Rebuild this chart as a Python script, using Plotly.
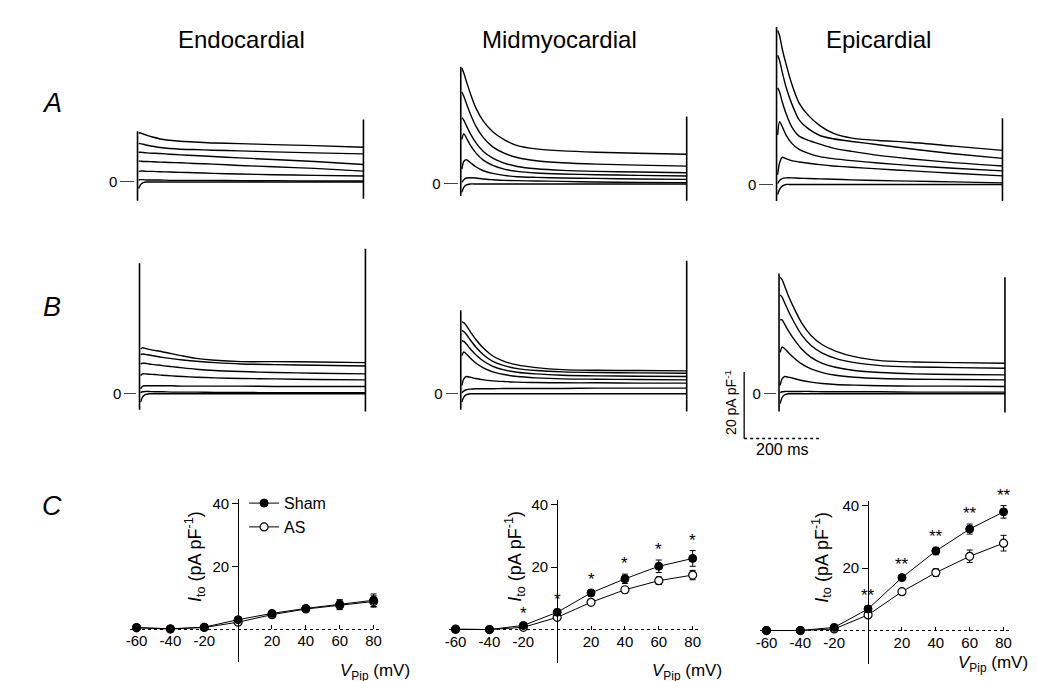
import plotly.graph_objects as go

W, H = 1037, 681
FONT = "Liberation Sans, Arial, sans-serif"

# ---------------- data: current traces (pA/pF) sampled at TIME_MS ----------------
TIME_MS = [3, 8, 15, 25, 40, 60, 85, 115, 150, 200, 270, 360, 470, 600]

ENDO_A = [
    [14.8, 14.8, 14.5, 14.1, 13.6, 13.0, 12.6, 12.3, 12.1, 11.8, 11.6, 11.3, 11.0, 10.5],
    [11.6, 11.6, 11.4, 11.1, 10.8, 10.4, 10.1, 9.9, 9.8, 9.6, 9.4, 9.1, 8.8, 8.5],
    [9.0, 9.0, 8.9, 8.8, 8.7, 8.6, 8.4, 8.2, 8.0, 7.7, 7.3, 6.8, 6.2, 5.3],
    [6.3, 6.3, 6.2, 6.2, 6.1, 6.0, 5.9, 5.8, 5.6, 5.4, 5.0, 4.6, 4.1, 3.3],
    [3.2, 3.3, 3.3, 3.2, 3.2, 3.1, 3.0, 2.9, 2.8, 2.6, 2.4, 2.2, 2.0, 1.8],
    [0.6, 0.7, 0.7, 0.6, 0.6, 0.6, 0.5, 0.5, 0.5, 0.5, 0.4, 0.4, 0.3, 0.3],
    [-2.0, -0.8, -0.2, 0.0, 0.0, 0.0, 0.0, 0.0, 0.0, 0.0, 0.0, 0.0, 0.0, 0.0],
]
MID_A = [
    [35.0, 33.5, 31.0, 27.5, 23.0, 19.0, 15.8, 13.4, 11.6, 10.6, 10.0, 9.6, 9.3, 9.0],
    [27.8, 26.5, 24.3, 21.3, 17.5, 14.0, 11.2, 9.3, 8.0, 7.0, 6.4, 6.0, 5.7, 5.4],
    [20.0, 19.3, 17.6, 15.3, 12.5, 9.8, 7.8, 6.3, 5.3, 4.6, 4.1, 3.8, 3.6, 3.4],
    [13.5, 15.2, 13.9, 11.8, 9.4, 7.2, 5.6, 4.5, 3.8, 3.3, 3.0, 2.8, 2.6, 2.4],
    [4.5, 6.8, 7.3, 6.5, 5.2, 4.0, 3.2, 2.6, 2.2, 2.0, 1.8, 1.7, 1.5, 1.4],
    [0.5, 1.3, 1.8, 1.9, 1.8, 1.5, 1.3, 1.1, 1.0, 0.9, 0.8, 0.6, 0.5, 0.4],
    [-2.5, -1.0, -0.3, 0.0, 0.0, 0.0, 0.0, 0.0, 0.0, 0.0, 0.0, 0.0, 0.0, 0.0],
]
EPI_A = [
    [46.5, 45.0, 41.0, 36.5, 30.5, 24.6, 20.8, 17.8, 15.5, 14.0, 13.3, 12.7, 11.6, 10.3],
    [39.0, 37.5, 34.0, 29.5, 24.5, 19.5, 16.8, 14.8, 13.8, 13.0, 12.0, 10.7, 9.3, 7.9],
    [29.2, 28.0, 25.0, 21.5, 17.5, 14.6, 13.3, 12.2, 11.0, 10.0, 8.8, 7.7, 6.6, 5.6],
    [15.0, 19.0, 17.5, 15.0, 12.5, 10.6, 9.4, 8.4, 7.8, 7.2, 6.5, 5.7, 4.9, 4.1],
    [3.0, 6.5, 8.2, 7.8, 7.2, 6.8, 6.4, 6.0, 5.6, 5.2, 4.7, 4.1, 3.4, 2.6],
    [0.3, 1.2, 1.8, 2.0, 2.0, 1.9, 1.8, 1.7, 1.6, 1.4, 1.2, 1.0, 0.8, 0.5],
    [-3.0, -1.5, -0.5, 0.0, 0.0, 0.0, 0.0, 0.0, 0.0, 0.0, 0.0, 0.0, 0.0, 0.0],
]
ENDO_B = [
    [13.5, 13.9, 13.7, 13.4, 13.1, 12.7, 12.1, 11.4, 10.7, 10.1, 9.7, 9.7, 9.6, 9.4],
    [11.8, 12.0, 11.9, 11.7, 11.4, 11.0, 10.6, 10.2, 9.8, 9.4, 9.0, 8.8, 8.6, 8.4],
    [9.0, 9.2, 9.2, 9.0, 8.8, 8.5, 8.2, 7.8, 7.4, 7.0, 6.7, 6.4, 6.2, 6.0],
    [5.5, 6.0, 6.0, 5.9, 5.8, 5.6, 5.4, 5.2, 5.0, 4.8, 4.6, 4.5, 4.3, 4.2],
    [1.5, 2.2, 2.4, 2.4, 2.4, 2.4, 2.4, 2.3, 2.3, 2.3, 2.3, 2.2, 2.2, 2.2],
    [0.3, 0.6, 0.7, 0.7, 0.6, 0.6, 0.5, 0.5, 0.5, 0.4, 0.4, 0.3, 0.3, 0.3],
    [-2.5, -1.0, -0.3, 0.0, 0.0, 0.0, 0.0, 0.0, 0.0, 0.0, 0.0, 0.0, 0.0, 0.0],
]
MID_B = [
    [21.7, 21.5, 20.5, 18.8, 16.4, 13.8, 11.4, 9.8, 8.7, 7.9, 7.3, 7.1, 7.0, 6.9],
    [19.1, 18.8, 17.9, 16.3, 14.1, 11.8, 9.8, 8.5, 7.6, 7.0, 6.6, 6.4, 6.3, 6.2],
    [16.0, 15.8, 15.0, 13.6, 11.8, 9.9, 8.3, 7.2, 6.5, 6.0, 5.6, 5.4, 5.3, 5.2],
    [11.5, 12.6, 12.0, 10.8, 9.3, 7.8, 6.6, 5.8, 5.2, 4.8, 4.5, 4.4, 4.3, 4.2],
    [2.5, 4.5, 5.2, 5.0, 4.6, 4.2, 3.9, 3.7, 3.5, 3.4, 3.3, 3.3, 3.2, 3.2],
    [0.3, 0.8, 1.2, 1.4, 1.5, 1.5, 1.5, 1.6, 1.6, 1.6, 1.6, 1.7, 1.7, 1.7],
    [-2.5, -1.0, -0.3, 0.0, 0.0, 0.0, 0.0, 0.0, 0.0, 0.0, 0.0, 0.0, 0.0, 0.0],
]
EPI_B = [
    [35.2, 34.5, 32.5, 29.5, 25.8, 21.4, 17.6, 14.8, 12.9, 11.2, 10.0, 9.6, 9.4, 9.2],
    [29.8, 29.2, 27.5, 24.9, 21.6, 17.8, 14.6, 12.3, 10.7, 9.4, 8.5, 8.1, 7.9, 7.7],
    [22.3, 22.3, 21.0, 19.0, 16.4, 13.5, 11.0, 9.2, 8.0, 7.0, 6.4, 6.0, 5.8, 5.7],
    [12.5, 14.1, 13.6, 12.4, 10.8, 9.0, 7.5, 6.4, 5.6, 5.0, 4.6, 4.4, 4.3, 4.2],
    [2.5, 4.5, 5.2, 5.0, 4.6, 4.0, 3.5, 3.1, 2.8, 2.6, 2.4, 2.3, 2.3, 2.2],
    [0.3, 0.6, 0.7, 0.7, 0.7, 0.7, 0.7, 0.6, 0.6, 0.6, 0.6, 0.5, 0.5, 0.5],
    [-3.0, -1.2, -0.3, 0.0, 0.0, 0.0, 0.0, 0.0, 0.0, 0.0, 0.0, 0.0, 0.0, 0.0],
]

# capacitive transients at pulse on (t=0) and off (t=600): [min, max] in pA/pF
PULSE_MS = [0, 600]
ENDO_A_CAP = [[-5.7, 15.3], [-5.1, 18.9]]
MID_A_CAP = [[-3.6, 35.4], [-5.1, 20.4]]
EPI_A_CAP = [[-5.0, 47.6], [-5.0, 20.0]]
ENDO_B_CAP = [[-4.8, 39.4], [-5.4, 43.8]]
MID_B_CAP = [[-4.8, 25.2], [-5.4, 40.2]]
EPI_B_CAP = [[-5.4, 36.3], [-5.7, 35.2]]

SCALE_MS = 200
SCALE_PA = 20

# ---------------- data: I-V relations ----------------
V_MV = [-60, -40, -20, 0, 20, 40, 60, 80]
ENDO_SHAM = [0.5, 0.1, 0.6, 3.0, 5.0, 6.6, 7.9, 9.2]
ENDO_SHAM_ERR = [0.2, 0.2, 0.3, 0.5, 0.6, 0.8, 1.5, 2.0]
ENDO_AS = [0.4, 0.0, 0.5, 2.2, 4.6, 6.4, 7.6, 8.8]
ENDO_AS_ERR = [0.2, 0.2, 0.3, 0.4, 0.6, 0.8, 1.4, 1.8]
MID_SHAM = [0.2, 0.1, 1.4, 5.6, 11.8, 16.3, 20.3, 22.8]
MID_SHAM_ERR = [0.2, 0.2, 0.4, 0.8, 1.0, 1.5, 2.0, 2.5]
MID_AS = [0.2, 0.1, 0.8, 4.0, 8.8, 12.8, 15.7, 17.5]
MID_AS_ERR = [0.2, 0.2, 0.3, 0.7, 0.8, 1.0, 1.2, 1.5]
EPI_SHAM = [0.1, 0.1, 1.1, 7.0, 17.0, 25.5, 32.5, 38.0]
EPI_SHAM_ERR = [0.2, 0.2, 0.3, 0.8, 0.8, 1.2, 1.6, 2.0]
EPI_AS = [0.1, 0.1, 0.6, 5.1, 12.5, 18.6, 23.8, 28.0]
EPI_AS_ERR = [0.2, 0.2, 0.3, 0.7, 0.8, 1.2, 2.0, 2.5]
MID_STARS = ["", "", "*", "*", "*", "*", "*", "*"]
EPI_STARS = ["", "", "", "**", "**", "**", "**", "**"]

TICK_V = [-60, -40, -20, 20, 40, 60, 80]
TICK_I = [20, 40]

# ---------------- layout helpers ----------------
PX_MS = 0.378
PX_PA = 3.33
PX_MV = 1.70
PX_IV = 3.15


def xdom(left_px, right_px):
    return [left_px / W, right_px / W]


def ydom(top_px, bottom_px):
    return [1 - bottom_px / H, 1 - top_px / H]


def text(txt, x_px, y_px, size, xanchor="center", yanchor="middle", angle=0):
    return dict(text=txt, x=x_px / W, y=1 - y_px / H, xref="paper", yref="paper",
                xanchor=xanchor, yanchor=yanchor, textangle=angle, showarrow=False,
                font=dict(size=size))


fig = go.Figure()
layout = dict(
    width=W, height=H, autosize=False,
    margin=dict(l=0, r=0, t=0, b=0),
    paper_bgcolor="white", plot_bgcolor="rgba(0,0,0,0)",
    font=dict(family=FONT, color="black", size=15),
    showlegend=True,
)
annotations = []

TRACE_XR = [-6, 612]
panels = [
    (ENDO_A, ENDO_A_CAP, 126.0, 171.0, [-6.5, 49.0], 14),
    (MID_A, MID_A_CAP, 450.5, 173.0, [-6.5, 49.0], 14),
    (EPI_A, EPI_A_CAP, 767.5, 173.5, [-6.5, 49.0], 14),
    (ENDO_B, ENDO_B_CAP, 128.0, 384.0, [-7.5, 45.5], 12),
    (MID_B, MID_B_CAP, 450.5, 384.0, [-7.5, 45.5], 12),
    (EPI_B, EPI_B_CAP, 770.0, 384.0, [-7.5, 45.5], 12),
]

for i, (traces, cap, L, zero, yr, tl) in enumerate(panels, start=1):
    xa, ya = f"x{i}", f"y{i}"
    for tr in traces:
        fig.add_trace(go.Scatter(
            x=TIME_MS, y=tr, xaxis=xa, yaxis=ya, mode="lines",
            line=dict(color="black", width=1.4, shape="spline", smoothing=0.7),
            showlegend=False, hoverinfo="skip"))
    for t, (lo, hi) in zip(PULSE_MS, cap):
        fig.add_trace(go.Scatter(
            x=[t, t], y=[lo, hi], xaxis=xa, yaxis=ya, mode="lines",
            line=dict(color="black", width=1.6), showlegend=False, hoverinfo="skip"))
    sfx = "" if i == 1 else str(i)
    layout["xaxis" + sfx] = dict(
        domain=xdom(L + TRACE_XR[0] * PX_MS, L + TRACE_XR[1] * PX_MS),
        range=TRACE_XR, visible=False, anchor=ya)
    layout["yaxis" + sfx] = dict(
        domain=ydom(zero - yr[1] * PX_PA, zero - yr[0] * PX_PA),
        range=yr, anchor=xa, showline=False, showgrid=False, zeroline=False,
        tickmode="array", tickvals=[0], ticktext=["0"], ticks="outside",
        ticklen=tl, tickwidth=1, tickcolor="#444", tickfont=dict(size=15))

# scale bar (axis 7)
sb_x0, sb_y0 = 735.0, 429.0
sb_xr = [-4, SCALE_MS + 4]
sb_yr = [-0.5, SCALE_PA + 0.5]
fig.add_trace(go.Scatter(x=[0, 0], y=[0, SCALE_PA], xaxis="x7", yaxis="y7", mode="lines",
                         line=dict(color="black", width=1.3), showlegend=False, hoverinfo="skip"))
fig.add_trace(go.Scatter(x=[0, SCALE_MS], y=[0, 0], xaxis="x7", yaxis="y7", mode="lines",
                         line=dict(color="black", width=1.3, dash="dot"), showlegend=False,
                         hoverinfo="skip"))
layout["xaxis7"] = dict(domain=xdom(sb_x0 + sb_xr[0] * 0.375, sb_x0 + sb_xr[1] * 0.375),
                        range=sb_xr, visible=False, anchor="y7")
layout["yaxis7"] = dict(domain=ydom(sb_y0 - sb_yr[1] * 3.35, sb_y0 - sb_yr[0] * 3.35),
                        range=sb_yr, visible=False, anchor="x7")
annotations.append(text("20 pA pF<sup>-1</sup>", 721, 393, 14, angle=-90))
annotations.append(text("200 ms", 773, 440, 16))

# I-V panels (axes 8-10)
IV_XR = [-64, 85]
IV_YR = [-10.5, 41.5]
iv_panels = [
    (ENDO_SHAM, ENDO_SHAM_ERR, ENDO_AS, ENDO_AS_ERR, None, 227.0, 620.7, 184.0, 327.0, 664.0),
    (MID_SHAM, MID_SHAM_ERR, MID_AS, MID_AS_ERR, MID_STARS, 547.3, 621.5, 505.0, 640.0, 664.0),
    (EPI_SHAM, EPI_SHAM_ERR, EPI_AS, EPI_AS_ERR, EPI_STARS, 859.4, 622.5, 813.0, 948.0, 656.0),
]
for k, (sham, sham_e, asv, as_e, stars, x0, zero, ylab_x, xlab_x, xlab_y) in enumerate(iv_panels):
    n = 8 + k
    xa, ya = f"x{n}", f"y{n}"
    first = k == 0
    fig.add_trace(go.Scatter(
        x=V_MV, y=asv, xaxis=xa, yaxis=ya, mode="lines+markers", name="AS",
        line=dict(color="black", width=1),
        marker=dict(symbol="circle", size=8, color="white", line=dict(color="black", width=1.2)),
        error_y=dict(type="data", array=as_e, color="black", thickness=1, width=3),
        showlegend=first, legendrank=2, hoverinfo="skip"))
    fig.add_trace(go.Scatter(
        x=V_MV, y=sham, xaxis=xa, yaxis=ya, mode="lines+markers", name="Sham",
        line=dict(color="black", width=1),
        marker=dict(symbol="circle", size=8, color="black", line=dict(color="black", width=1)),
        error_y=dict(type="data", array=sham_e, color="black", thickness=1, width=3),
        showlegend=first, legendrank=1, hoverinfo="skip"))
    layout[f"xaxis{n}"] = dict(
        domain=xdom(x0 + IV_XR[0] * PX_MV, x0 + IV_XR[1] * PX_MV), range=IV_XR,
        anchor="free", position=1 - zero / H, showline=False, showgrid=False, zeroline=False,
        tickmode="array", tickvals=TICK_V, ticktext=[str(v) for v in TICK_V],
        ticks="inside", ticklen=4, tickcolor="black", ticklabelstandoff=1,
        tickfont=dict(size=15))
    layout[f"yaxis{n}"] = dict(
        domain=ydom(zero - IV_YR[1] * PX_IV, zero - IV_YR[0] * PX_IV), range=IV_YR,
        anchor="free", position=x0 / W, showline=True, linecolor="black", linewidth=1,
        showgrid=False, zeroline=False,
        tickmode="array", tickvals=TICK_I, ticktext=[str(v) for v in TICK_I],
        ticks="outside", ticklen=6, tickcolor="black", tickfont=dict(size=15),
        minor=dict(tickmode="array", tickvals=[0], showgrid=True, griddash="dot",
                   gridcolor="black", gridwidth=1, ticks=""))
    if stars:
        for v, s, e, lab in zip(V_MV, sham, sham_e, stars):
            if lab:
                annotations.append(dict(text=lab, x=v, y=s + e, xref=xa, yref=ya,
                                        xanchor="center", yanchor="bottom", showarrow=False,
                                        font=dict(size=17), yshift=-1))
    annotations.append(text("<i>I</i><sub>to</sub> (pA pF<sup>-1</sup>)", ylab_x, 548, 18,
                            angle=-90))
    annotations.append(text("<i>V</i><sub>Pip</sub> (mV)", xlab_x, xlab_y, 17, xanchor="left"))

layout["legend"] = dict(x=233 / W, y=1 - 477 / H, xanchor="left", yanchor="top",
                        bgcolor="rgba(0,0,0,0)", font=dict(size=16), itemwidth=30,
                        tracegroupgap=2)

# titles and panel letters
for txt, xl in [("Endocardial", 165), ("Midmyocardial", 470), ("Epicardial", 815)]:
    annotations.append(text(txt, xl, 28, 24, xanchor="left"))
for txt, yl in [("A", 92), ("B", 297), ("C", 497)]:
    annotations.append(text(f"<i>{txt}</i>", 40, yl, 27))

layout["annotations"] = annotations
fig.update_layout(**layout)
fig.write_html("out.html")
